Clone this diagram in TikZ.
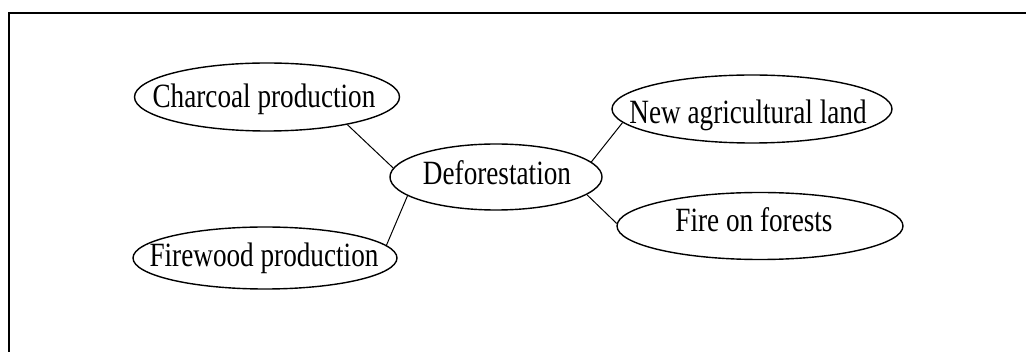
\documentclass[tikz,border=0pt]{standalone}
\usepackage{fontspec}
\setmainfont{Liberation Serif}
\usetikzlibrary{shapes.geometric}
\tikzset{
  el/.style={draw=black, ellipse, line width=1.4pt, inner sep=0pt},
  txt/.style={inner sep=0pt, font=\fontsize{34}{36}\selectfont, text=black},
  conn/.style={draw=black, line width=1pt},
  frame/.style={draw=black, line width=2.6pt}
}
\newcommand{\sq}[1]{\scalebox{0.8}[1]{#1}}
\begin{document}
\begin{tikzpicture}[x=1pt,y=-1pt]
\useasboundingbox (0,0) rectangle (1026,352);
\draw[frame] (1030,13) -- (9,13) -- (9,356);
\node[el, minimum width=265pt, minimum height=68pt] (char) at (267,97) {};
\node[el, minimum width=264pt, minimum height=62pt] (fire) at (265,258) {};
\node[el, minimum width=212pt, minimum height=66pt] (defo) at (496,177) {};
\node[el, minimum width=280pt, minimum height=68pt] (agri) at (752,109) {};
\node[el, minimum width=286pt, minimum height=67pt] (forest) at (760,226) {};
\node[txt] (tchar) at (264,99) {\sq{Charcoal production}};
\node[txt] (tfire) at (264,258) {\sq{Firewood production}};
\node[txt] (tdefo) at (497,173) {\sq{Deforestation}};
\node[txt] (tagri) at (748,115) {\sq{New agricultural land}};
\node[txt] (tforest) at (754,220) {\sq{Fire on forests}};
\draw[conn] (char.-19) -- (defo.175);
\draw[conn] (fire.6) -- (defo.-168);
\draw[conn] (defo.9) -- (agri.186);
\draw[conn] (defo.-11) -- (forest.179);
\end{tikzpicture}
\end{document}
